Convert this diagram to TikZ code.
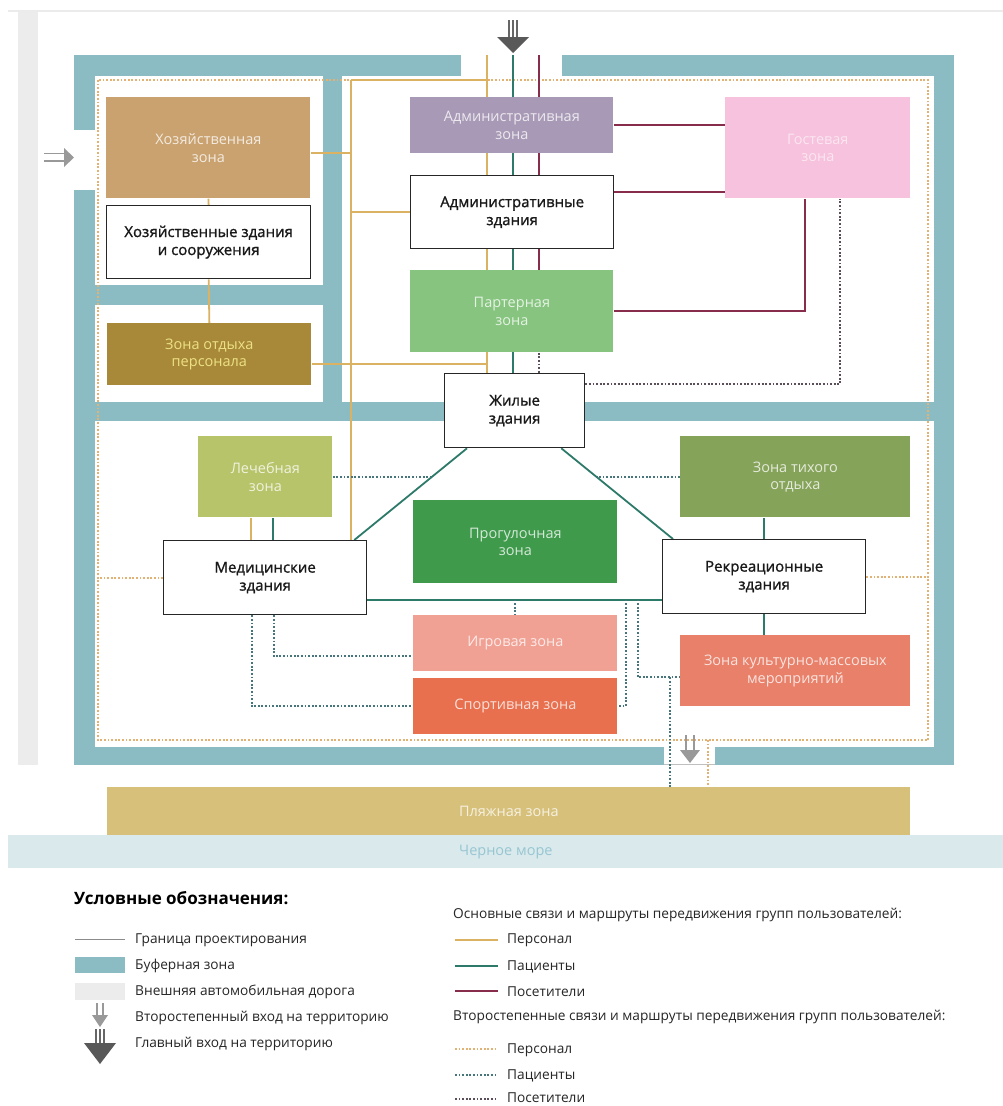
\documentclass[tikz,border=0pt]{standalone}
\usepackage{fontspec}
\setmainfont{Open Sans}
\newfontfamily\bldgfont[FakeBold=1.2]{Open Sans}
\usetikzlibrary{calc}

\definecolor{buffer}{RGB}{139,188,195}
\definecolor{road}{RGB}{236,236,236}
\definecolor{staffc}{RGB}{218,178,98}
\definecolor{patc}{RGB}{45,122,106}
\definecolor{visc}{RGB}{135,45,75}
\definecolor{staffdot}{RGB}{226,178,116}
\definecolor{patdot}{RGB}{70,118,124}
\definecolor{visdot}{RGB}{90,78,88}
\definecolor{hozc}{RGB}{201,162,112}
\definecolor{restc}{RGB}{168,137,58}
\definecolor{admc}{RGB}{168,154,182}
\definecolor{partc}{RGB}{134,196,127}
\definecolor{guestc}{RGB}{246,194,221}
\definecolor{treatc}{RGB}{184,196,106}
\definecolor{walkc}{RGB}{63,154,76}
\definecolor{quietc}{RGB}{134,163,90}
\definecolor{playc}{RGB}{241,160,148}
\definecolor{sportc}{RGB}{232,112,79}
\definecolor{eventc}{RGB}{232,128,106}
\definecolor{beachc}{RGB}{214,192,122}
\definecolor{seac}{RGB}{218,233,236}
\definecolor{seatext}{RGB}{150,198,210}

\pgfdeclarelayer{frame}
\pgfdeclarelayer{links}
\pgfsetlayers{frame,links,main}

\tikzset{every picture/.style={line width=0.75pt}}
\tikzset{
  zone/.style={anchor=north west, inner sep=0pt, align=center, text=white, text opacity=0.78, font=\fontsize{14.5}{17.5}\selectfont},
  bldg/.style={anchor=north west, inner sep=0pt, align=center, draw=black!85, fill=white, line width=1.3pt, text=black!90, font=\bldgfont\fontsize{15}{18}\selectfont},
  staff/.style={draw=staffc, line width=1.8pt},
  patient/.style={draw=patc, line width=1.8pt},
  visitor/.style={draw=visc, line width=1.8pt},
  staffsec/.style={draw=staffdot, line width=2pt, dash pattern=on 1.8pt off 1.8pt},
  patientsec/.style={draw=patdot, line width=2pt, dash pattern=on 1.8pt off 1.8pt},
  visitorsec/.style={draw=visdot, line width=2pt, dash pattern=on 1.8pt off 1.8pt},
  legtext/.style={anchor=west, inner sep=0pt, text=black!85, font=\fontsize{13.7}{16}\selectfont},
}

\begin{document}
\begin{tikzpicture}[x=1pt,y=1pt,yscale=-1,xscale=1]
\useasboundingbox (0,0) rectangle (1003,1106);

% Zones and buildings
\node[zone, fill=hozc, minimum width=204pt, minimum height=101pt] (hozzone) at (106,97) {Хозяйственная\\зона};
\node[bldg, minimum width=204pt, minimum height=73pt] (hozbld) at (106,205) {Хозяйственные здания\\и сооружения};
\node[zone, fill=restc, text=yellow!40, minimum width=204pt, minimum height=62pt] (restzone) at (107,323) {Зона отдыха\\персонала};
\node[zone, fill=admc, minimum width=203pt, minimum height=56pt] (admzone) at (410,97) {Административная\\зона};
\node[bldg, minimum width=203pt, minimum height=73pt] (admbld) at (410,175) {Административные\\здания};
\node[zone, fill=partc, minimum width=203pt, minimum height=82pt] (parterre) at (410,270) {Партерная\\зона};
\node[zone, fill=guestc, text opacity=0.6, minimum width=185pt, minimum height=101pt] (guest) at (725,97) {Гостевая\\зона};
\node[bldg, minimum width=140pt, minimum height=74pt] (living) at (444,373) {Жилые\\здания};
\node[zone, fill=treatc, minimum width=134pt, minimum height=81pt] (treat) at (198,436) {Лечебная\\зона};
\node[zone, fill=walkc, minimum width=204pt, minimum height=83pt] (walk) at (413,500) {Прогулочная\\зона};
\node[zone, fill=quietc, minimum width=230pt, minimum height=81pt] (quiet) at (680,436) {Зона тихого\\отдыха};
\node[bldg, minimum width=203pt, minimum height=74pt] (medbld) at (163,540) {Медицинские\\здания};
\node[bldg, minimum width=203pt, minimum height=74pt] (recbld) at (662,539) {Рекреационные\\здания};
\node[zone, fill=playc, minimum width=204pt, minimum height=56pt] (play) at (413,615) {Игровая зона};
\node[zone, fill=sportc, minimum width=204pt, minimum height=56pt] (sport) at (413,678) {Спортивная зона};
\node[zone, fill=eventc, minimum width=230pt, minimum height=71pt] (events) at (680,635) {Зона культурно-массовых\\мероприятий};
\node[zone, fill=beachc, minimum width=803pt, minimum height=48pt] (beach) at (107,787) {Пляжная зона};
\node[zone, fill=seac, text=seatext, text opacity=1, minimum width=995pt, minimum height=33pt] (sea) at (8,835) {Черное море};

% Site, buffer zone and road
\begin{pgfonlayer}{frame}
\fill[white] (0,0) rectangle (1003,1106);
\draw[black!8, line width=1.5pt] (8,11) -- (1003,11);
\fill[road] (18,12) rectangle (38,765);
\fill[buffer] (74,55) rectangle (954,765);
\fill[white] (95,76) rectangle (323,285);
\fill[white] (95,305) rectangle (323,402);
\fill[white] (342,76) rectangle (934,402);
\fill[white] (95,421) rectangle (934,747);
% entrances
\fill[white] (461,55) rectangle (562,76);
\fill[white] (74,130) rectangle (95,190);
\fill[white] (664,747) rectangle (715,765);
\draw[black!25, line width=0.6pt] (664,764) -- (715,764);
\end{pgfonlayer}

% Routes
\begin{pgfonlayer}{links}
\coordinate (bnw) at (98,80);
\coordinate (bse) at (928,740);
\draw[staffsec] (bnw) rectangle (bse);
% staff
\coordinate (topS) at (487,55);
\coordinate (sN) at (351,80);
\draw[staff] (topS) -- (topS |- living.north);
\draw[staff] (sN) -- (topS |- sN);
\draw[staff] (sN) -- (sN |- medbld.north);
\coordinate (hz) at ([yshift=5.5pt]hozzone.east);
\draw[staff] (hz) -- (hz -| sN);
\draw[staff] (admbld.west) -- (admbld.west -| sN);
\coordinate (rz) at ([yshift=10pt]restzone.east);
\draw[staff] (rz) -- (rz -| topS);
\draw[staff] (hozzone.south) -- (hozbld.north);
\draw[staff] (hozbld.south) -- (restzone.north);
\draw[staff] ([xshift=-14pt]treat.south) -- ([xshift=-14pt]treat.south |- medbld.north);
% patients
\coordinate (topP) at (513,55);
\draw[patient] (topP) -- (topP |- living.north);
\coordinate (dlA) at ([xshift=23pt]living.south west);
\coordinate (dlB) at ([xshift=-13pt]medbld.north east);
\coordinate (drA) at ([xshift=-24pt]living.south east);
\coordinate (drB) at ([xshift=11pt]recbld.north west);
\draw[patient] (dlA) -- (dlB);
\draw[patient] (drA) -- (drB);
\coordinate (mb) at ([yshift=22pt]medbld.east);
\draw[patient] (mb) -- (mb -| recbld.west);
\draw[patient] ([xshift=8pt]treat.south) -- ([xshift=8pt]treat.south |- medbld.north);
\draw[patient] (recbld.north) -- (recbld.north |- quiet.south);
\draw[patient] (recbld.south) -- (recbld.south |- events.north);
% visitors
\coordinate (topV) at (539,55);
\draw[visitor] (topV) -- (topV |- parterre.north);
\draw[visitor] (admzone.east) -- (admzone.east -| guest.west);
\coordinate (ab) at ([yshift=-20.5pt]admbld.east);
\draw[visitor] (ab) -- (ab -| guest.west);
\draw[visitor] (parterre.east) -| ([xshift=-12.5pt]guest.south);
% secondary routes
\draw[visitorsec] (topV |- parterre.south) -- (topV |- living.north);
\coordinate (lv) at ([yshift=-27pt]living.east);
\draw[visitorsec] (lv) -| ([xshift=22.5pt]guest.south);
\coordinate (dlX) at ($(dlA)!0.32!(dlB)$);
\coordinate (drX) at ($(drA)!0.32!(drB)$);
\draw[patientsec] (treat.east) -- (treat.east -| dlX);
\draw[patientsec] (quiet.west) -- (quiet.west -| drX);
\draw[staffsec] (medbld.west) -- (medbld.west -| bnw);
\draw[staffsec] (recbld.east) -- (recbld.east -| bse);
\draw[patientsec] ([xshift=-13.5pt]medbld.south) |- (sport.west);
\coordinate (pw) at ([yshift=13pt]play.west);
\draw[patientsec] ([xshift=8.5pt]medbld.south) |- (pw);
\draw[patientsec] (play.north |- mb) -- (play.north);
\coordinate (c1) at ([xshift=8pt]sport.east |- mb);
\draw[patientsec] (c1) |- (sport.east);
\coordinate (ev) at ([yshift=6.5pt]events.west);
\coordinate (c2) at ([xshift=20pt]sport.east |- mb);
\draw[patientsec] (c2) |- (ev);
\coordinate (c3) at ([xshift=-10pt]ev);
\draw[patientsec] (c3) -- (c3 |- beach.north);
\coordinate (c4) at (708,740);
\draw[staffsec] (c4) -- (c4 |- beach.north);
\end{pgfonlayer}

% Entrances
\draw[black!60, line width=1.3pt] (509,20) -- (509,40) (513,20) -- (513,40) (517,20) -- (517,40);
\fill[black!65] (497,37) -- (529,37) -- (513,53) -- cycle;
\draw[black!40, line width=1.3pt] (44,153.5) -- (66,153.5) (44,161) -- (66,161);
\fill[black!40] (64,148) -- (74,157.5) -- (64,167) -- cycle;
\draw[black!40, line width=1.3pt] (686,735) -- (686,752) (694,735) -- (694,752);
\fill[black!40] (680,750) -- (700,750) -- (690,763) -- cycle;

% Legend
\node[anchor=west, inner sep=0pt, font=\fontsize{17}{20}\selectfont\bfseries] (legend) at (74,898) {Условные обозначения:};
\draw[black!45, line width=0.6pt] (75,939) -- (125,939);
\node[legtext] (lbound) at (135,940) {Граница проектирования};
\fill[buffer] (75,957) rectangle (125,973);
\node[legtext] (lbuffer) at (135,966) {Буферная зона};
\fill[road] (75,983) rectangle (125,1000);
\node[legtext] (lroad) at (135,992) {Внешняя автомобильная дорога};
\draw[black!40, line width=1.2pt] (97,1003) -- (97,1018) (103,1003) -- (103,1018);
\fill[black!40] (92,1015) -- (108,1015) -- (100,1027) -- cycle;
\node[legtext] (lsecond) at (135,1018) {Второстепенный вход на территорию};
\draw[black!60, line width=1.2pt] (96,1029) -- (96,1045) (100,1029) -- (100,1045) (104,1029) -- (104,1045);
\fill[black!65] (84,1043) -- (116,1043) -- (100,1064) -- cycle;
\node[legtext] (lmain) at (135,1044) {Главный вход на территорию};

\node[legtext] (lmajor) at (453,915) {Основные связи и маршруты передвижения групп пользователей:};
\draw[staff] (455,940) -- (498,940);
\node[legtext] (lstaff) at (507,940) {Персонал};
\draw[patient] (455,966) -- (498,966);
\node[legtext] (lpat) at (507,967) {Пациенты};
\draw[visitor] (455,991) -- (498,991);
\node[legtext] (lvis) at (507,992) {Посетители};
\node[legtext] (lminor) at (453,1017) {Второстепенные связи и маршруты передвижения групп пользователей:};
\draw[staffsec] (455,1049) -- (498,1049);
\node[legtext] (lstaff2) at (507,1050) {Персонал};
\draw[patientsec] (455,1075) -- (498,1075);
\node[legtext] (lpat2) at (507,1076) {Пациенты};
\draw[visitorsec] (455,1099) -- (498,1099);
\node[legtext] (lvis2) at (507,1098) {Посетители};
\end{tikzpicture}
\end{document}
